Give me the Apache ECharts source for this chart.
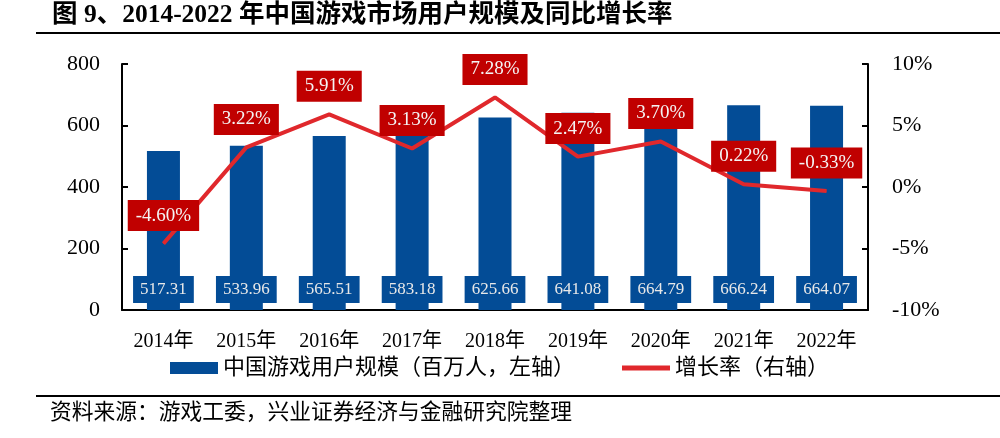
<!DOCTYPE html>
<html><head><meta charset="utf-8">
<script src="https://cdn.jsdelivr.net/npm/echarts@6/dist/echarts.min.js"></script>
<style>html,body{margin:0;padding:0;background:#fff}#c{width:1000px;height:438px}</style>
</head><body><div id="c"></div>
<script>
const categories = ['2014年','2015年','2016年','2017年','2018年','2019年','2020年','2021年','2022年'];
const users = [517.31, 533.96, 565.51, 583.18, 625.66, 641.08, 664.79, 666.24, 664.07];
const growth = [-4.60, 3.22, 5.91, 3.13, 7.28, 2.47, 3.70, 0.22, -0.33];
const seriesNames = ['中国游戏用户规模（百万人，左轴）', '增长率（右轴）'];
const titleText = '图 9、2014-2022 年中国游戏市场用户规模及同比增长率';
const sourceText = '资料来源：游戏工委，兴业证券经济与金融研究院整理';

const FONT = "'Liberation Serif', 'Noto Sans CJK SC', serif";
const BLUE = '#034C96';
const RED = '#E0282C';
const LABELRED = '#C00000';

const chart = echarts.init(document.getElementById('c'));
chart.setOption({
  animation: false,
  textStyle: { fontFamily: FONT },
  grid: { left: 122, right: 132, top: 64, bottom: 128 },
  graphic: [
    { type: 'text', left: 52, top: 3, style: { text: titleText, font: "bold 25.5px " + FONT, fill: '#000' } },
    { type: 'rect', shape: { x: 36, y: 32, width: 964, height: 2 }, style: { fill: '#000' } },
    { type: 'rect', shape: { x: 36, y: 395, width: 964, height: 2 }, style: { fill: '#000' } },
    { type: 'text', left: 50, top: 402, style: { text: sourceText, font: "21.75px " + FONT, fill: '#000' } }
  ],
  legend: {
    left: 165, top: 352, itemWidth: 48, itemHeight: 12, itemGap: 47,
    textStyle: { fontSize: 22, color: '#000', fontFamily: FONT },
    data: [
      { name: seriesNames[0], icon: 'rect' },
      { name: seriesNames[1], icon: 'path://M0,4L48,4L48,9L0,9Z' }
    ]
  },
  xAxis: {
    type: 'category', data: categories,
    axisLine: { lineStyle: { color: '#000', width: 2 } },
    axisTick: { show: false },
    axisLabel: { fontSize: 20, color: '#000', margin: 22, fontFamily: FONT }
  },
  yAxis: [
    { type: 'value', min: 0, max: 800, interval: 200, splitLine: { show: false },
      axisLine: { show: true, lineStyle: { color: '#000', width: 2 } },
      axisTick: { show: true, inside: true, length: 6, lineStyle: { color: '#000', width: 2 } },
      axisLabel: { fontSize: 22, color: '#000', margin: 22, fontFamily: FONT } },
    { type: 'value', min: -10, max: 10, interval: 5, splitLine: { show: false },
      axisLine: { show: true, lineStyle: { color: '#000', width: 2 } },
      axisTick: { show: true, inside: true, length: 6, lineStyle: { color: '#000', width: 2 } },
      axisLabel: { fontSize: 22, color: '#000', margin: 24, formatter: '{value}%', fontFamily: FONT } }
  ],
  series: [
    { name: seriesNames[0], type: 'bar', data: users, barWidth: 33, yAxisIndex: 0,
      itemStyle: { color: BLUE },
      label: { show: true, position: 'insideBottom', distance: 7, formatter: p => p.value.toFixed(2),
        color: '#e8e8e8', fontSize: 17, lineHeight: 17, fontFamily: FONT, backgroundColor: BLUE,
        padding: [5, 7, 5, 7] } },
    { name: seriesNames[1], type: 'line', data: growth, yAxisIndex: 1,
      symbol: 'circle', symbolSize: 1, showSymbol: true,
      lineStyle: { color: RED, width: 4 }, itemStyle: { color: RED },
      label: { show: true, position: 'top', distance: 12, formatter: p => p.value.toFixed(2) + '%',
        color: '#f4f4f4', fontSize: 19, lineHeight: 19, fontFamily: FONT, backgroundColor: LABELRED,
        padding: [6, 8, 6, 8] } }
  ]
});
</script></body></html>
